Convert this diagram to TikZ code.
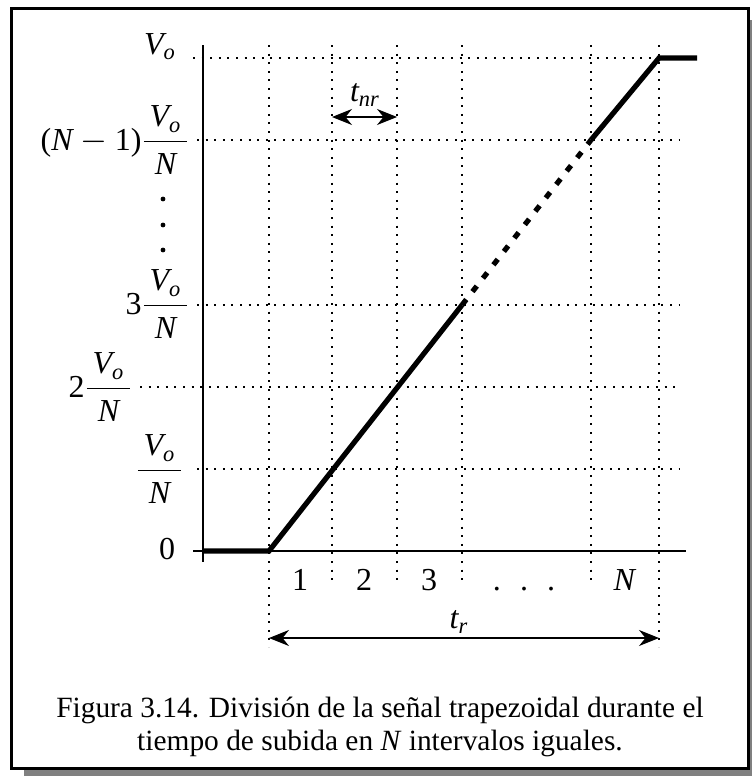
\documentclass[tikz,border=0pt]{standalone}
\usepackage{amsmath}
\usepackage{fontspec}
\setmainfont{Liberation Serif}[ItalicFont={Liberation Serif Italic}]
\usepackage{tikz}
\usetikzlibrary{arrows.meta}

\newcommand{\Vo}{\textit{V}_{\textit{o}}}
\newcommand{\Nv}{\textit{N}}
\newcommand{\fracVN}{\dfrac{\,\Vo\,}{\,\Nv\,}}

\begin{document}
\begin{tikzpicture}[
    x=0.5pt, y=-0.5pt,
    gridline/.style={line width=1pt, dash pattern=on 1pt off 3.3pt},
    axisline/.style={line width=0.7pt},
    signal/.style={line width=2.6pt},
    signaldash/.style={signal, dash pattern=on 3.5pt off 5pt},
    dimarrow/.style={line width=0.6pt, {Stealth[length=10pt, width=8pt]}-{Stealth[length=10pt, width=8pt]}},
    lbl/.style={font=\fontsize{16}{19}\selectfont, inner sep=1pt},
    frame/.style={line width=1.5pt}
]
    \useasboundingbox (0,0) rectangle (752,776);

    % frame and shadow
    \fill[gray] (24,770) rectangle (752,776);
    \fill[gray] (749,20) rectangle (752,776);
    \draw[frame] (11,8) rectangle (748,768);

    % vertical grid lines
    \foreach \gx in {332,397,462,591}
        \draw[gridline] (\gx,45) -- (\gx,583);
    \foreach \gx in {269,659}
        \draw[gridline] (\gx,45) -- (\gx,647);

    % level labels
    \node[lbl] (lvN) at (160,47) {$\Vo$};
    \node[lbl, anchor=east] (lvM) at (192,140) {$\text{(}\Nv-\text{1)}\fracVN$};
    \node[lbl, anchor=east] (lv3) at (192,304) {$\text{3}\fracVN$};
    \node[lbl, anchor=east] (lv2) at (135,387) {$\text{2}\fracVN$};
    \node[lbl, anchor=east] (lv1) at (186,469) {$\fracVN$};
    \node[lbl] (lv0) at (167,549) {0};
    \foreach \dy in {199,225,250}
        \fill (163,\dy) circle (1.2pt);

    % horizontal grid lines
    \draw[gridline] (193,58) -- (679,58);
    \draw[gridline] (197,140) -- (679,140);
    \draw[gridline] (197,305) -- (679,305);
    \draw[gridline] (140,387) -- (679,387);
    \draw[gridline] (197,469) -- (679,469);

    % axes
    \draw[axisline] (203,45) -- (203,562);
    \draw[axisline] (193,551) -- (686,551);

    % signal
    \coordinate (s0) at (203,551);
    \coordinate (s1) at (269,551);
    \coordinate (s2) at (462,305);
    \coordinate (s3) at (591,140);
    \coordinate (s4) at (659,58);
    \coordinate (s5) at (697,58);
    \draw[signal] (s0) -- (s1) -- (s2);
    \draw[signaldash] (s2) -- (s3);
    \draw[signal] (s3) -- (s4) -- (s5);

    % interval numbers
    \node[lbl, anchor=base] (n1) at (300,590) {1};
    \node[lbl, anchor=base] (n2) at (364,590) {2};
    \node[lbl, anchor=base] (n3) at (429,590) {3};
    \node[lbl, anchor=base] (ndots) at (524,590) {.\hspace{0.6em}.\hspace{0.6em}.};
    \node[lbl, anchor=base] (nN) at (625,590) {\textit{N}};

    % t_nr and t_r
    \coordinate (a1) at (332,117);
    \coordinate (a2) at (397,117);
    \draw[dimarrow] (a1) -- (a2);
    \node[lbl] (tnr) at (365,95) {$\textit{t}_{\textit{nr}}$};
    \coordinate (b1) at (269,638);
    \coordinate (b2) at (659,638);
    \draw[dimarrow] (b1) -- (b2);
    \node[lbl] (tr) at (459,622) {$\textit{t}_{\textit{r}}$};

    % caption
    \node[font=\fontsize{14.7}{16.3}\selectfont, align=center] (cap) at (380,727)
        {Figura 3.14. División de la señal trapezoidal durante el\\
         tiempo de subida en \textit{N} intervalos iguales.};
\end{tikzpicture}
\end{document}
